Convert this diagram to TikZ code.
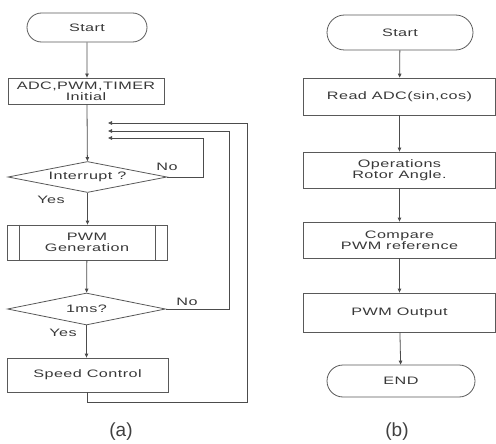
\documentclass[tikz,border=0pt]{standalone}
\usepackage{fontspec}
\setmainfont{Liberation Sans}[FakeStretch=1.5,LetterSpace=4]
\newfontfamily\capfont{Liberation Sans}
\usetikzlibrary{arrows.meta,positioning,shapes.geometric,shapes.misc}

\begin{document}
\begin{tikzpicture}[
 x=1pt,y=-1pt,
 line width=0.8pt,
 every node/.style={text=black!78,font=\fontsize{10.8}{11}\selectfont},
 term/.style={draw=black!65,rounded rectangle,inner sep=0pt},
 proc/.style={draw=black!65,rectangle,align=center,inner sep=0pt},
 dec/.style={draw=black!65,diamond,aspect=5,inner sep=0pt},
 arr/.style={draw=black!70,-{Triangle[length=4pt,width=3.5pt]}},
 lbl/.style={text=black!75,font=\capfont\fontsize{19}{19}\selectfont}]
\useasboundingbox (0,0) rectangle (496,444);
% (a) main loop
\node[term,minimum width=120,minimum height=29] (startA) at (87,27.5) {Start};
\node[proc,minimum width=156,minimum height=26] (init) at (86,91) {ADC,PWM,TIMER\\Initial};
\node[dec,minimum width=159,minimum height=31] (intr) at (87.5,177) {Interrupt ?};
\node[proc,minimum width=160,minimum height=35] (pwm) at (87,242.5) {PWM\\Generation};
\draw[draw=black!65] ([xshift=13]pwm.north west) -- ([xshift=13]pwm.south west)
 ([xshift=-12]pwm.north east) -- ([xshift=-12]pwm.south east);
\node[dec,minimum width=158,minimum height=32] (ms) at (86.5,309) {1ms?};
\node[proc,minimum width=161,minimum height=34] (speed) at (87.5,375) {Speed Control};
\coordinate (fbA) at (108,138);
\coordinate (fbB) at (108,131);
\coordinate (fbC) at (108,123);
\coordinate (loopC) at (247,402);
\draw[arr] (startA) -- (startA|-init.north);
\draw[arr] (init.south-|startA) -- (intr);
\draw[arr] (intr.south) -- (intr.south|-pwm.north);
\draw[arr] (pwm) -- (ms);
\draw[arr] (ms.south) -- (ms.south|-speed.north);
\draw[arr] (intr.east) -- ++(36,0) |- (fbA);
\draw[arr] (ms.east) -- ++(63,0) |- (fbB);
\draw[arr] (speed.south) |- (loopC) |- (fbC);
\node (noA) at (167,167) {No};
\node (yesA) at (51,200) {Yes};
\node (noB) at (187,302) {No};
\node (yesB) at (63,333) {Yes};
\node[lbl] (capA) at (121,432) {(a)};
% (b) sensor routine
\node[term,minimum width=146,minimum height=35] (startB) at (400,32.5) {Start};
\node[proc,minimum width=192,minimum height=37] (read) at (399.5,96.5) {Read ADC(sin,cos)};
\node[proc,minimum width=192,minimum height=36] (oper) at (399.5,170) {Operations\\Rotor Angle.};
\node[proc,minimum width=192,minimum height=36] (comp) at (399.5,240) {Compare\\PWM reference};
\node[proc,minimum width=192,minimum height=39] (out) at (399.5,312.5) {PWM Output};
\node[term,minimum width=148,minimum height=32] (endB) at (401,381) {END};
\foreach \a/\b in {startB/read,read/oper,oper/comp,comp/out,out/endB}
 \draw[arr] (\a) -- (\b);
\node[lbl] (capB) at (397,432) {(b)};
\end{tikzpicture}
\end{document}
